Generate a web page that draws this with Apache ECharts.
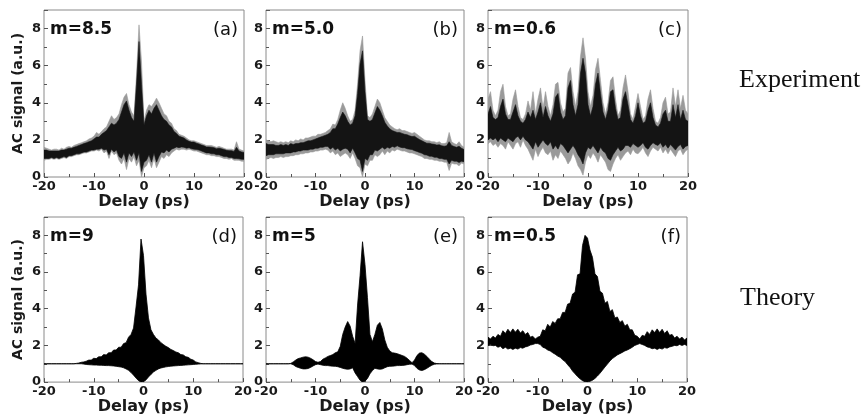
<!DOCTYPE html>
<html><head><meta charset="utf-8">
<script src="https://cdn.jsdelivr.net/npm/echarts@6/dist/echarts.min.js"></script>
<style>html,body{margin:0;padding:0;background:#fff}#c{width:864px;height:416px}</style>
</head><body><div id="c"></div>
<script>
// Delay axis samples (ps)
const delay = [-20,-19.5,-19,-18.5,-18,-17.5,-17,-16.5,-16,-15.5,-15,-14.5,-14,-13.5,-13,-12.5,-12,-11.5,-11,-10.5,-10,-9.5,-9,-8.5,-8,-7.5,-7,-6.5,-6,-5.5,-5,-4.5,-4,-3.5,-3,-2.5,-2,-1.5,-1,-0.5,0,0.5,1,1.5,2,2.5,3,3.5,4,4.5,5,5.5,6,6.5,7,7.5,8,8.5,9,9.5,10,10.5,11,11.5,12,12.5,13,13.5,14,14.5,15,15.5,16,16.5,17,17.5,18,18.5,19,19.5,20];

// (a) experiment m=8.5 : outer (spike) envelope and dense core envelope
const aOuterHigh = [1.6,1.55,1.5,1.45,1.5,1.5,1.45,1.55,1.5,1.6, 1.65,1.6,1.7,1.75,1.8,1.85,1.9,1.95,2.05,2.1, 2.2,2.4,2.3,2.45,2.6,2.7,3.0,3.3,3.1,3.2, 3.4,3.9,4.3,4.5,3.9,3.5,3.3,5.5,8.2,6.2, 3.0,3.6,3.9,3.8,4.0,4.25,4.0,3.7,3.4,3.3, 3.0,2.9,2.6,2.5,2.3,2.25,2.2,2.1,2.0,1.95, 1.95,1.9,1.85,1.8,1.75,1.7,1.7,1.7,1.65,1.6, 1.65,1.6,1.55,1.5,1.5,1.5,1.45,1.9,1.5,1.45, 1.4];
const aOuterLow = [0.9,0.95,0.95,1.0,0.95,1.0,0.95,1.0,1.05,1.0, 1.1,1.1,1.15,1.2,1.2,1.25,1.3,1.3,1.35,1.4, 1.4,1.45,1.4,1.5,1.3,1.4,1.0,1.4,1.2,1.3, 0.9,0.7,1.0,0.4,1.0,0.8,1.1,0.6,0.9,0.0, 0.5,0.6,0.9,0.5,1.0,0.5,0.8,1.1,1.0,1.2, 1.1,1.3,1.4,1.5,1.45,1.5,1.5,1.45,1.5,1.45, 1.4,1.4,1.35,1.3,1.25,1.2,1.2,1.15,1.15,1.1, 1.1,1.05,1.0,1.0,0.95,1.0,0.9,0.9,0.9,0.85, 0.85];
const aCoreHigh = [1.45,1.45,1.4,1.4,1.4,1.4,1.4,1.45,1.45,1.5, 1.55,1.55,1.6,1.65,1.7,1.75,1.8,1.85,1.9,1.95, 2.05,2.15,2.15,2.3,2.4,2.5,2.7,2.9,2.8,2.9, 3.1,3.5,3.9,4.1,3.6,3.2,3.0,5.0,7.3,5.0, 2.8,3.3,3.6,3.4,3.7,3.9,3.6,3.3,3.1,3.0, 2.8,2.7,2.45,2.35,2.2,2.15,2.1,2.0,1.92,1.88, 1.88,1.82,1.78,1.72,1.68,1.62,1.62,1.6,1.58,1.52, 1.55,1.52,1.48,1.44,1.42,1.42,1.38,1.6,1.4,1.35, 1.32];
const aCoreLow = [1.0,1.0,1.0,1.05,1.0,1.05,1.0,1.05,1.1,1.05, 1.15,1.15,1.2,1.25,1.25,1.3,1.35,1.35,1.4,1.45, 1.45,1.5,1.5,1.55,1.45,1.5,1.2,1.5,1.35,1.45, 1.1,1.0,1.3,0.8,1.3,1.1,1.35,0.9,1.3,0.3, 0.8,0.9,1.2,0.8,1.3,0.8,1.1,1.35,1.3,1.45, 1.35,1.5,1.55,1.62,1.58,1.62,1.6,1.55,1.58,1.52, 1.5,1.48,1.45,1.4,1.35,1.3,1.3,1.25,1.25,1.2, 1.2,1.15,1.1,1.1,1.05,1.05,1.0,1.0,0.98,0.95, 0.95];

// (b) experiment m=5.0
const bOuterHigh = [2.0,1.95,1.9,1.95,1.9,1.85,1.9,1.85,1.9,1.85, 1.95,1.9,2.0,1.95,2.05,2.0,2.1,2.1,2.15,2.2, 2.2,2.3,2.3,2.35,2.4,2.5,2.6,2.85,2.8,3.1, 3.6,4.0,3.7,3.3,3.0,3.1,3.6,5.0,6.8,7.6, 5.2,3.3,3.2,3.4,3.8,4.2,4.0,3.6,3.2,3.0, 2.8,2.7,2.6,2.55,2.6,2.5,2.5,2.45,2.4,2.35, 2.4,2.3,2.2,2.1,2.0,1.95,1.95,1.9,1.9,1.85, 1.9,1.8,1.8,1.85,2.4,1.9,1.8,1.75,1.9,1.7, 1.6];
const bOuterLow = [0.95,1.0,1.05,1.0,1.05,1.05,1.1,1.05,1.1,1.1, 1.15,1.15,1.2,1.2,1.25,1.25,1.3,1.3,1.35,1.35, 1.4,1.4,1.45,1.45,1.5,1.45,1.3,1.4,1.2,1.3, 1.1,1.2,1.3,1.2,1.0,1.3,1.0,0.6,0.5,0.0, 0.7,0.6,0.9,0.9,1.2,1.1,1.2,1.4,1.2,1.4, 1.3,1.45,1.4,1.5,1.45,1.4,1.4,1.35,1.3,1.3, 1.25,1.2,1.15,1.1,1.0,1.0,0.95,0.95,0.9,0.9, 0.85,0.85,0.8,0.8,0.35,0.75,0.7,0.7,0.6,0.75, 0.7];
const bCoreHigh = [1.8,1.75,1.75,1.75,1.7,1.7,1.75,1.7,1.75,1.7, 1.8,1.75,1.8,1.8,1.85,1.85,1.9,1.95,1.95,2.0, 2.05,2.1,2.15,2.2,2.25,2.3,2.4,2.6,2.6,2.85, 3.2,3.5,3.3,3.0,2.8,2.9,3.3,4.5,6.1,6.8, 4.6,3.1,3.0,3.1,3.45,3.8,3.6,3.3,2.95,2.75, 2.6,2.5,2.45,2.4,2.4,2.35,2.3,2.28,2.22,2.18, 2.2,2.1,2.02,1.95,1.88,1.82,1.82,1.78,1.76,1.72, 1.74,1.68,1.66,1.68,1.9,1.7,1.64,1.6,1.66,1.55, 1.48];
const bCoreLow = [1.15,1.2,1.2,1.2,1.25,1.25,1.25,1.25,1.3,1.3, 1.3,1.35,1.35,1.4,1.4,1.45,1.45,1.45,1.5,1.5, 1.55,1.55,1.6,1.6,1.65,1.65,1.5,1.6,1.45,1.55, 1.4,1.5,1.55,1.5,1.3,1.55,1.3,1.0,0.9,0.3, 1.0,0.9,1.2,1.2,1.45,1.4,1.5,1.6,1.5,1.6, 1.55,1.65,1.6,1.68,1.62,1.58,1.58,1.52,1.5,1.48, 1.42,1.38,1.32,1.28,1.2,1.18,1.12,1.12,1.06,1.06, 1.0,1.0,0.95,0.95,0.7,0.9,0.85,0.85,0.78,0.85, 0.82];

// (c) experiment m=0.6
const cOuterHigh = [4.2,4.6,3.6,3.3,3.6,4.6,5.0,3.8,3.3,3.4, 4.2,4.7,3.8,3.2,3.1,3.4,4.1,3.6,4.6,3.4, 4.2,4.8,3.7,4.6,3.8,3.3,3.9,5.0,5.1,4.0, 3.5,3.7,5.6,5.9,4.6,3.8,4.6,6.5,7.5,6.4, 4.6,3.8,4.4,5.8,6.4,5.2,4.0,3.4,4.0,5.2, 5.4,4.2,3.3,3.6,4.8,5.5,4.6,3.4,3.1,3.8, 4.5,3.8,3.1,3.3,4.2,4.7,3.7,3.0,2.9,3.2, 4.0,4.3,3.4,3.5,4.8,3.8,4.7,3.7,4.4,3.6, 3.4];
const cOuterLow = [1.8,1.9,1.7,1.8,1.6,1.8,1.7,1.5,1.9,1.7, 1.5,1.8,1.9,1.6,2.0,1.7,1.5,1.2,0.9,1.5, 1.1,1.4,1.6,1.3,1.2,1.4,0.9,1.2,1.0,1.4, 1.2,1.0,0.7,0.9,1.3,1.0,0.6,0.4,0.1,0.8, 1.2,1.0,1.3,1.1,0.8,1.2,1.0,0.8,0.4,0.3, 0.7,1.0,1.2,0.9,1.1,1.3,1.4,1.2,1.5,1.3, 1.25,1.4,1.6,1.3,1.1,1.4,1.6,1.5,1.4,1.6, 1.3,1.5,1.25,1.5,1.3,1.1,1.4,1.5,1.2,1.4, 1.5];
const cCoreHigh = [3.4,3.8,3.2,3.1,3.2,3.8,4.2,3.4,3.1,3.1, 3.5,3.9,3.3,3.0,2.9,3.1,3.5,3.2,3.6,3.1, 3.5,4.0,3.2,3.8,3.3,3.0,3.4,4.3,4.5,3.5, 3.1,3.3,4.8,5.2,3.9,3.3,3.9,5.6,6.4,5.6, 3.9,3.3,3.8,5.0,5.6,4.5,3.5,3.1,3.6,4.6, 4.7,3.7,3.1,3.2,4.2,4.6,3.9,3.1,2.9,3.3, 4.0,3.3,2.9,3.0,3.6,4.0,3.2,2.8,2.7,2.9, 3.4,3.6,3.0,3.0,3.9,3.2,3.9,3.1,3.6,3.1, 3.0];
const cCoreLow = [2.0,2.1,2.0,2.1,1.9,2.1,2.0,1.9,2.1,2.0, 1.9,2.1,2.2,2.0,2.2,2.0,1.9,1.7,1.5,1.9, 1.6,1.8,2.0,1.8,1.7,1.9,1.5,1.7,1.5,1.8, 1.7,1.5,1.3,1.5,1.7,1.5,1.2,1.0,0.7,1.3, 1.6,1.5,1.7,1.5,1.3,1.6,1.4,1.3,1.0,0.9, 1.2,1.4,1.6,1.4,1.5,1.7,1.7,1.6,1.8,1.7, 1.6,1.7,1.85,1.6,1.5,1.7,1.85,1.75,1.7,1.85, 1.6,1.75,1.55,1.75,1.6,1.45,1.65,1.75,1.5,1.65, 1.7];

// (d) theory m=9 : upper / lower fringe envelope
const dHigh = [1.0,1.0,1.0,1.0,1.0,1.0,1.0,1.0,1.0,1.0, 1.0,1.0,1.0,1.02,1.04,1.08,1.1,1.14,1.2,1.2, 1.3,1.28,1.38,1.38,1.5,1.48,1.6,1.6,1.75,1.75, 1.9,1.9,2.1,2.15,2.45,2.6,2.95,4.1,5.3,7.8, 6.9,4.8,3.5,2.85,2.6,2.4,2.3,2.15,2.05,1.95, 1.88,1.78,1.72,1.64,1.6,1.5,1.48,1.38,1.35,1.25, 1.2,1.1,1.06,1.02,1.0,1.0,1.0,1.0,1.0,1.0, 1.0,1.0,1.0,1.0,1.0,1.0,1.0,1.0,1.0,1.0, 1.0];
const dLow = [1.0,1.0,1.0,1.0,1.0,1.0,1.0,1.0,1.0,1.0, 1.0,1.0,1.0,1.0,1.0,1.0,0.98,0.96,0.95,0.94, 0.93,0.93,0.92,0.92,0.91,0.9,0.9,0.89,0.88,0.86, 0.84,0.82,0.78,0.72,0.64,0.52,0.38,0.22,0.08,0.0, 0.02,0.12,0.28,0.42,0.55,0.64,0.72,0.77,0.8,0.83, 0.85,0.87,0.88,0.89,0.9,0.91,0.92,0.93,0.94,0.95, 0.96,0.97,0.98,0.99,1.0,1.0,1.0,1.0,1.0,1.0, 1.0,1.0,1.0,1.0,1.0,1.0,1.0,1.0,1.0,1.0, 1.0];

// (e) theory m=5
const eHigh = [1.0,1.0,1.0,1.0,1.0,1.0,1.0,1.0,1.0,1.0, 1.02,1.1,1.2,1.28,1.32,1.36,1.38,1.36,1.3,1.22, 1.12,1.08,1.12,1.25,1.32,1.4,1.45,1.5,1.6,1.65, 1.95,2.6,3.0,3.3,3.05,2.5,2.1,4.2,5.8,7.65, 6.4,4.6,2.6,2.2,2.6,3.1,3.25,2.9,2.3,1.9, 1.7,1.6,1.58,1.55,1.5,1.45,1.4,1.3,1.18,1.06, 1.2,1.45,1.58,1.6,1.52,1.4,1.25,1.12,1.04,1.01, 1.0,1.0,1.0,1.0,1.0,1.0,1.0,1.0,1.0,1.0, 1.0];
const eLow = [1.0,1.0,1.0,1.0,1.0,1.0,1.0,1.0,1.0,1.0, 1.0,0.95,0.85,0.8,0.75,0.72,0.72,0.74,0.8,0.88, 0.95,0.98,0.95,0.92,0.9,0.9,0.88,0.87,0.86,0.84, 0.8,0.75,0.72,0.7,0.72,0.78,0.5,0.3,0.1,0.0, 0.05,0.2,0.45,0.63,0.75,0.72,0.7,0.72,0.78,0.84, 0.86,0.87,0.88,0.9,0.9,0.91,0.92,0.95,0.97,0.98, 0.9,0.75,0.66,0.63,0.68,0.75,0.84,0.92,0.97,0.99, 1.0,1.0,1.0,1.0,1.0,1.0,1.0,1.0,1.0,1.0, 1.0];

// (f) theory m=0.5
const fHigh = [2.45,2.35,2.5,2.4,2.6,2.5,2.8,2.65,2.88,2.7, 2.9,2.72,2.88,2.68,2.8,2.6,2.7,2.45,2.5,2.35, 2.45,2.5,2.85,2.8,3.15,3.0,3.3,3.2,3.45,3.45, 3.8,3.8,4.25,4.3,4.8,4.9,5.85,5.9,7.45,8.0, 7.85,7.2,6.8,5.9,5.75,4.95,4.85,4.3,4.4,3.85, 3.95,3.5,3.55,3.25,3.35,3.05,3.15,2.85,2.85,2.55, 2.5,2.35,2.55,2.5,2.75,2.6,2.85,2.7,2.9,2.7, 2.88,2.65,2.8,2.55,2.6,2.4,2.5,2.35,2.45,2.3, 2.4];
const fLow = [2.0,2.05,1.98,2.0,1.9,1.95,1.82,1.9,1.8,1.85, 1.78,1.85,1.8,1.88,1.85,1.92,1.95,2.02,2.05,2.1, 2.1,2.05,1.9,1.85,1.75,1.7,1.6,1.52,1.42,1.35, 1.22,1.12,0.95,0.8,0.6,0.45,0.3,0.18,0.08,0.02, 0.0,0.04,0.1,0.2,0.33,0.48,0.65,0.82,0.98,1.15, 1.28,1.38,1.48,1.55,1.62,1.7,1.75,1.82,1.9,2.0, 2.05,2.1,2.05,2.0,1.92,1.88,1.82,1.85,1.78,1.85, 1.8,1.88,1.85,1.92,1.95,2.0,1.98,2.05,2.0,2.05, 2.0];

const mLabels = ['m=8.5','m=5.0','m=0.6','m=9','m=5','m=0.5'];
const panelTags = ['(a)','(b)','(c)','(d)','(e)','(f)'];
const rowLabels = ['Experiment','Theory'];
const xTitle = 'Delay (ps)';
const yTitle = 'AC signal (a.u.)';

const SANS = '"DejaVu Sans", "Liberation Sans", Arial, sans-serif';
const grids = [
  {left:44, top:10, width:200, height:167},
  {left:266, top:10, width:198, height:167},
  {left:488, top:10, width:200, height:167},
  {left:44, top:217, width:199, height:166},
  {left:266, top:217, width:198, height:166},
  {left:488, top:217, width:199, height:166}
];
const frame = '#8a8a8a';

const xAxes = grids.map((g,i)=>({
  gridIndex:i, type:'value', min:-20, max:20, interval:10,
  axisLine:{show:false, onZero:false},
  axisTick:{inside:true, length:4, lineStyle:{color:'#555'}},
  minorTick:{show:true, splitNumber:2, length:3, lineStyle:{color:'#555'}},
  splitLine:{show:false},
  axisLabel:{color:'#1a1a1a', fontWeight:'bold', fontSize:13, fontFamily:SANS, margin:3},
  name:xTitle, nameLocation:'middle', nameGap:15,
  nameTextStyle:{color:'#1a1a1a', fontWeight:'bold', fontSize:16, fontFamily:SANS}
}));
const yAxes = grids.map((g,i)=>({
  gridIndex:i, type:'value', min:0, max:9, interval:2,
  axisLine:{show:false, onZero:false},
  axisTick:{inside:true, length:4, lineStyle:{color:'#555'}},
  minorTick:{show:true, splitNumber:2, length:3, lineStyle:{color:'#555'}},
  splitLine:{show:false},
  axisLabel:{color:'#1a1a1a', fontWeight:'bold', fontSize:13, fontFamily:SANS, margin:3, showMaxLabel:false},
  name:(i===0||i===3)?yTitle:'', nameLocation:'middle', nameGap:19,
  nameTextStyle:{color:'#1a1a1a', fontWeight:'bold', fontSize:14, fontFamily:SANS}
}));

// Filled band between a lower and an upper envelope: one polygon built through the axis scales
const series = [];
function band(gi, low, high, color, lw){
  series.push({
    type:'custom', xAxisIndex:gi, yAxisIndex:gi, silent:true, clip:true,
    data: delay.map((x,k)=>[x, low[k], high[k]]),
    encode:{x:0, y:[1,2]},
    renderItem:function(params, api){
      if (params.dataIndex !== 0) return null;
      const pts = [];
      for (let k = 0; k < delay.length; k++) pts.push(api.coord([delay[k], high[k]]));
      for (let k = delay.length - 1; k >= 0; k--) pts.push(api.coord([delay[k], low[k]]));
      return {type:'polygon', shape:{points:pts},
        style:{fill:color, stroke:color, lineWidth:lw, lineJoin:'round'}};
    }
  });
}
const gray = '#9a9a9a', core = '#141414';
band(0, aOuterLow, aOuterHigh, gray, 0.6);
band(0, aCoreLow, aCoreHigh, core, 0.6);
band(1, bOuterLow, bOuterHigh, gray, 0.6);
band(1, bCoreLow, bCoreHigh, core, 0.6);
band(2, cOuterLow, cOuterHigh, gray, 0.6);
band(2, cCoreLow, cCoreHigh, core, 0.6);
band(3, dLow, dHigh, '#000', 0.8);
band(4, eLow, eHigh, '#000', 0.8);
band(5, fLow, fHigh, '#000', 0.8);

const graphic = [];
grids.forEach((g,i)=>{
  const cy = g.top + 20;
  graphic.push({type:'text', x:g.left+6, y:cy, silent:true,
    style:{text:mLabels[i], fill:'#111', font:'bold 17px '+SANS, align:'left', verticalAlign:'middle'}});
  graphic.push({type:'text', x:g.left+g.width-6, y:cy, silent:true,
    style:{text:panelTags[i], fill:'#111', font:'18px '+SANS, align:'right', verticalAlign:'middle'}});
});
graphic.push({type:'text', x:739, y:80, silent:true,
  style:{text:rowLabels[0], fill:'#111', font:'26px "Liberation Serif", "Times New Roman", serif', align:'left', verticalAlign:'middle'}});
graphic.push({type:'text', x:740, y:298, silent:true,
  style:{text:rowLabels[1], fill:'#111', font:'26px "Liberation Serif", "Times New Roman", serif', align:'left', verticalAlign:'middle'}});

const chart = echarts.init(document.getElementById('c'), null, {renderer:'canvas'});
chart.setOption({
  animation:false,
  backgroundColor:'#fff',
  grid: grids.map(g=>Object.assign({show:true, borderColor:frame, borderWidth:1, backgroundColor:'transparent'}, g)),
  xAxis:xAxes, yAxis:yAxes, series:series, graphic:graphic
});
</script></body></html>
